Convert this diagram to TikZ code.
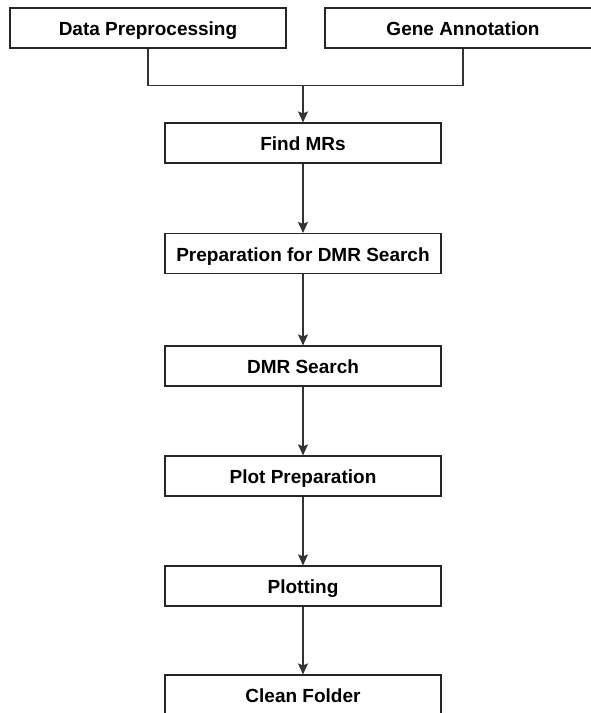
\documentclass[tikz,border=0pt]{standalone}
\usepackage{fontspec}
\setmainfont{Liberation Sans}
\usetikzlibrary{arrows.meta}
\definecolor{boxline}{HTML}{262626}
\definecolor{linkline}{HTML}{333333}
\begin{document}
\begin{tikzpicture}[x=1pt,y=-1pt,
  stage/.style={draw=boxline, line width=1.2pt, fill=white,
    minimum width=276pt, minimum height=40pt, inner sep=0pt,
    text height=15pt, text depth=0pt,
    font=\fontsize{19pt}{21pt}\selectfont\bfseries, text=black},
  link/.style={draw=linkline, line width=1.2pt},
  flow/.style={link, -{Stealth[length=11pt,width=10pt,inset=2pt]}}]
  \useasboundingbox (0,0) rectangle (591,713);
  \clip (0,0) rectangle (591,713);

  % input stages
  \node[stage] (dp) at (148,28) {Data Preprocessing};
  \node[stage] (ga) at (463,28) {Gene Annotation};

  % pipeline
  \node[stage] (mr)    at (303,143)   {Find MRs};
  \node[stage] (prep)  at (303,253.5) {Preparation for DMR Search};
  \node[stage] (dmr)   at (303,366)   {DMR Search};
  \node[stage] (pp)    at (303,476)   {Plot Preparation};
  \node[stage] (plot)  at (303,586)   {Plotting};
  \node[stage] (clean) at (303,695)   {Clean Folder};

  % merge of the two inputs
  \coordinate (join) at (303,85);
  \draw[link] (dp.south) -- ++(0,37) -| (ga.south);
  \draw[flow] (join) -- (mr.north);

  \draw[flow] (mr) -- (prep);
  \draw[flow] (prep) -- (dmr);
  \draw[flow] (dmr) -- (pp);
  \draw[flow] (pp) -- (plot);
  \draw[flow] (plot) -- (clean);
\end{tikzpicture}
\end{document}
